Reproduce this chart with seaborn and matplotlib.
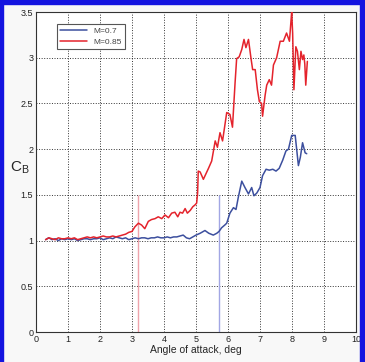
import pandas as pd
import matplotlib
matplotlib.use("Agg")
import matplotlib.pyplot as plt
import matplotlib.ticker as mticker
from matplotlib.patches import Rectangle
import seaborn as sns

sns.set_style("white")
plt.rcParams['font.family'] = ['Liberation Sans', 'DejaVu Sans']

# M=0.7 series
x_07 = [0.3, 0.4, 0.5, 0.6, 0.7, 0.8, 0.9, 1.0, 1.1, 1.2, 1.3, 1.4, 1.5, 1.6, 1.7, 1.8,
        1.9, 2.0, 2.1, 2.2, 2.3, 2.4, 2.5, 2.6, 2.7, 2.8, 2.9, 3.0, 3.1, 3.2, 3.3, 3.4,
        3.5, 3.6, 3.7, 3.8, 3.9, 4.0, 4.1, 4.2, 4.3, 4.4, 4.5, 4.6, 4.7, 4.8, 4.9, 5.0,
        5.13, 5.23, 5.28, 5.4, 5.54, 5.65, 5.72, 5.8, 5.9, 5.96, 6.06, 6.17, 6.25, 6.32,
        6.43, 6.53, 6.64, 6.74, 6.81, 6.9, 7.0, 7.08, 7.19, 7.29, 7.4, 7.5, 7.6, 7.71,
        7.81, 7.89, 7.99, 8.1, 8.2, 8.26, 8.33, 8.41, 8.46]
cb_07 = [1.01, 1.03, 1.01, 1.02, 1.00, 1.02, 1.01, 1.02, 1.01, 1.02, 1.00, 1.01, 1.02, 1.02, 1.01, 1.02,
         1.02, 1.03, 1.01, 1.02, 1.03, 1.02, 1.04, 1.03, 1.02, 1.03, 1.01, 1.02, 1.03, 1.02, 1.03, 1.03,
         1.02, 1.03, 1.03, 1.04, 1.03, 1.03, 1.04, 1.03, 1.04, 1.04, 1.05, 1.06, 1.03, 1.02, 1.04, 1.06,
         1.08, 1.10, 1.11, 1.08, 1.06, 1.08, 1.10, 1.14, 1.17, 1.19, 1.30, 1.36, 1.34, 1.47,
         1.65, 1.58, 1.51, 1.58, 1.49, 1.52, 1.58, 1.71, 1.78, 1.77, 1.78, 1.76, 1.79, 1.88,
         1.98, 2.00, 2.15, 2.15, 1.82, 1.91, 2.07, 1.96, 1.95]

# M=0.85 series
x_085 = [0.3, 0.4, 0.5, 0.6, 0.7, 0.8, 0.9, 1.0, 1.1, 1.2, 1.3, 1.4, 1.5, 1.6, 1.7, 1.8,
         1.9, 2.0, 2.1, 2.2, 2.3, 2.4, 2.5, 2.6, 2.7, 2.8, 2.9, 3.0, 3.09, 3.2, 3.3, 3.4,
         3.51, 3.61, 3.72, 3.82, 3.93, 4.03, 4.14, 4.24, 4.34, 4.43, 4.5, 4.58, 4.66, 4.73,
         4.82, 4.9, 4.97, 5.02, 5.05, 5.07, 5.13, 5.23, 5.39, 5.49, 5.6, 5.67, 5.75, 5.83,
         5.96, 6.06, 6.14, 6.22, 6.27, 6.35, 6.43, 6.5, 6.56, 6.64, 6.72, 6.77, 6.85, 6.92,
         6.98, 7.05, 7.08, 7.16, 7.21, 7.29, 7.36, 7.42, 7.52, 7.63, 7.73, 7.83, 7.92, 7.97,
         7.99, 8.02, 8.06, 8.12, 8.17, 8.23, 8.28, 8.33, 8.37, 8.4, 8.43, 8.48]
cb_085 = [1.01, 1.03, 1.02, 1.01, 1.03, 1.02, 1.02, 1.03, 1.02, 1.03, 1.01, 1.02, 1.03, 1.04, 1.03, 1.04,
          1.03, 1.04, 1.05, 1.04, 1.04, 1.05, 1.04, 1.05, 1.06, 1.07, 1.09, 1.10, 1.15, 1.19, 1.17, 1.13,
          1.21, 1.23, 1.24, 1.26, 1.24, 1.28, 1.25, 1.30, 1.31, 1.26, 1.31, 1.30, 1.35, 1.30,
          1.33, 1.37, 1.39, 1.41, 1.52, 1.76, 1.75, 1.67, 1.79, 1.87, 2.09, 2.02, 2.18, 2.09,
          2.40, 2.38, 2.24, 2.72, 2.99, 3.01, 3.09, 3.20, 3.11, 3.20, 2.99, 2.87, 2.87, 2.65,
          2.52, 2.50, 2.36, 2.59, 2.70, 2.76, 2.70, 2.92, 3.00, 3.18, 3.18, 3.27, 3.18, 3.41,
          3.50, 3.27, 2.65, 3.12, 3.07, 2.87, 3.07, 2.98, 3.03, 2.93, 2.70, 2.96]

# onset markers (x position, height)
onset_x = [3.19, 5.72]
onset_top = 1.5

df = pd.concat([
    pd.DataFrame({"alpha": x_07, "cb": cb_07, "case": "M=0.7"}),
    pd.DataFrame({"alpha": x_085, "cb": cb_085, "case": "M=0.85"}),
])

fig = plt.figure(figsize=(3.65, 3.62), dpi=100, facecolor="#f8f8f8")
ax = fig.add_axes([36/365, 30/362, 320/365, 320/362])
ax.set_facecolor("white")

ax.vlines(onset_x, 0, onset_top, colors=["#eea3ab", "#a2a6e4"], lw=1.0, zorder=1)

sns.lineplot(data=df, x="alpha", y="cb", hue="case", sort=False, estimator=None,
             palette={"M=0.7": "#3c4f9e", "M=0.85": "#e4232c"}, lw=1.1, ax=ax, zorder=3)

ax.set_xlim(0, 10)
ax.set_ylim(0, 3.5)
ax.set_xticks(range(0, 11))
ax.set_yticks([0, 0.5, 1, 1.5, 2, 2.5, 3, 3.5])
ax.yaxis.set_major_formatter(mticker.FormatStrFormatter('%g'))
ax.grid(True, color="black", linestyle=":", lw=0.7, alpha=0.8)
ax.tick_params(direction="in", length=3, labelsize=6.5, colors="#222222", pad=2)
for s in ax.spines.values():
    s.set_color("#333333")
    s.set_linewidth(0.8)

ax.set_xlabel("Angle of attack, deg", fontsize=7.5, labelpad=1)
ax.set_ylabel("")
fig.text(20/365, 1 - 168/362, "C$_\\mathregular{B}$", fontsize=11, ha="center", va="center")

leg = ax.legend(loc="upper left", bbox_to_anchor=(0.066, 0.962), borderaxespad=0,
                fancybox=False, fontsize=6, handlelength=3.2, frameon=True,
                edgecolor="#555555", framealpha=1, borderpad=0.4, labelspacing=0.3)
leg.get_frame().set_linewidth(0.8)
for t in leg.get_texts():
    t.set_color("#444444")

# blue frame around the figure
for rect in [(0, 0, 3/365, 1), (0, 1 - 4/362, 1, 4/362), (1 - 5/365, 0, 5/365, 1)]:
    fig.patches.append(Rectangle(rect[:2], rect[2], rect[3], transform=fig.transFigure,
                                 color="#1414e0", zorder=10))

fig.savefig("out.png", dpi=100, facecolor=fig.get_facecolor())
